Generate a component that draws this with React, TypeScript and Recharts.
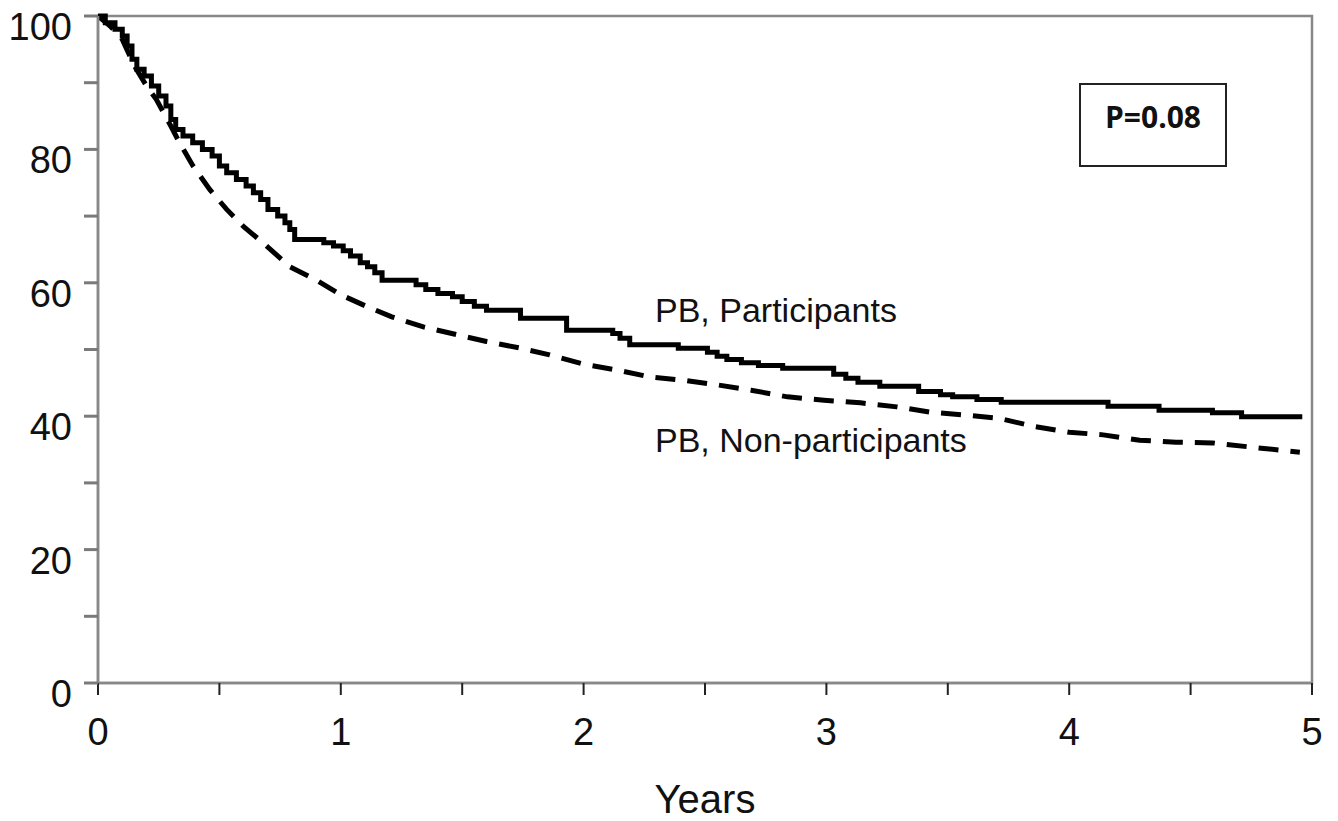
import React from 'react';
import { LineChart, Line, XAxis, YAxis, ReferenceArea } from 'recharts';

// Kaplan-Meier style survival (%)
const participantsYears = [
  0, 0.03, 0.07, 0.1, 0.12, 0.14, 0.16, 0.19, 0.22, 0.25, 0.28, 0.3, 0.32, 0.35, 0.39, 0.43,
  0.47, 0.5, 0.53, 0.57, 0.61, 0.64, 0.67, 0.7, 0.74, 0.77, 0.79, 0.81, 0.93, 0.97, 1.01,
  1.04, 1.08, 1.11, 1.14, 1.17, 1.31, 1.35, 1.4, 1.46, 1.5, 1.55, 1.6, 1.74, 1.93, 2.12,
  2.15, 2.19, 2.39, 2.51, 2.55, 2.59, 2.65, 2.72, 2.82, 3.03, 3.08, 3.13, 3.22, 3.38, 3.47,
  3.52, 3.62, 3.72, 4.16, 4.37, 4.59, 4.71, 4.96,
];
const participantsSurvival = [
  100, 99, 98, 97, 95.5, 93.5, 92, 91, 89.5, 88, 86.5, 84.5, 83, 82, 81, 80,
  79, 77.5, 76.5, 75.5, 74.5, 73.5, 72.5, 71, 70, 69, 68, 66.5, 66, 65.5, 64.8,
  64, 63, 62.4, 61.5, 60.4, 59.7, 59, 58.4, 57.9, 57.2, 56.5, 55.9, 54.7, 52.9, 52.4,
  51.7, 50.7, 50.2, 49.6, 49, 48.5, 48, 47.6, 47.2, 46.3, 45.7, 45.1, 44.5, 43.7, 43.2,
  42.9, 42.5, 42.1, 41.5, 40.9, 40.5, 39.9, 39.9,
];

const nonParticipantsYears = [
  0, 0.05, 0.1, 0.15, 0.2, 0.24, 0.27, 0.3, 0.33, 0.39, 0.46, 0.53, 0.6, 0.68, 0.79, 0.9,
  1.0, 1.11, 1.21, 1.34, 1.48, 1.6, 1.74, 1.86, 2.0, 2.14, 2.27, 2.41, 2.55, 2.69, 2.84,
  2.99, 3.14, 3.29, 3.43, 3.56, 3.71, 3.85, 4.0, 4.14, 4.29, 4.44, 4.59, 4.74, 4.95,
];
const nonParticipantsSurvival = [
  100, 98.5, 96.5, 92.5, 89.5, 87.5, 85.5, 83.5, 81.4, 77.6, 74, 71, 68.4, 66, 62.4, 60.4,
  58.2, 56.4, 54.9, 53.4, 52.2, 51.2, 50.2, 49.2, 47.8, 46.9, 45.9, 45.4, 44.7, 43.9, 42.9,
  42.4, 42, 41.4, 40.6, 40.2, 39.7, 38.5, 37.6, 37.2, 36.4, 36.1, 36, 35.4, 34.6,
];

const xTicks = [0, 0.5, 1, 1.5, 2, 2.5, 3, 3.5, 4, 4.5, 5];
const yTicks = [0, 10, 20, 30, 40, 50, 60, 70, 80, 90, 100];

const participants = participantsYears.map((t, i) => ({ t, s: participantsSurvival[i] }));
const nonParticipants = nonParticipantsYears.map((t, i) => ({ t, s: nonParticipantsSurvival[i] }));

const FONT = '"Liberation Sans", Arial, sans-serif';

const YTick = ({ x, y, payload }: any) =>
  payload.value % 20 === 0 ? (
    <text x={x} y={y + 24} textAnchor="end" fontSize={38} fontFamily={FONT} fill="#111">
      {payload.value}
    </text>
  ) : null;

const XTick = ({ x, y, payload }: any) =>
  Number.isInteger(payload.value) ? (
    <text x={x} y={y + 46} textAnchor="middle" fontSize={38} fontFamily={FONT} fill="#111">
      {payload.value}
    </text>
  ) : null;

const YearsLabel = ({ viewBox }: any) => (
  <text
    x={viewBox.x + viewBox.width / 2}
    y={viewBox.y + 130}
    textAnchor="middle"
    fontSize={40}
    fontFamily={FONT}
    fill="#111"
  >
    Years
  </text>
);

export default function App() {
  return (
    <div style={{ position: 'relative', width: 1338, height: 821, background: '#fff' }}>
      <style>{`body{margin:0;background:#fff}`}</style>
      <LineChart
        width={1338}
        height={821}
        margin={{ top: 16, right: 26, bottom: 0, left: 38 }}
      >
        <XAxis
          type="number"
          dataKey="t"
          domain={[0, 5]}
          ticks={xTicks}
          height={138}
          axisLine={{ stroke: '#888', strokeWidth: 2.5 }}
          tickLine={{ stroke: '#222', strokeWidth: 2 }}
          tickSize={12}
          tickMargin={4}
          tick={<XTick />}
          interval={0}
          allowDataOverflow
          label={<YearsLabel />}
        />
        <YAxis
          type="number"
          domain={[0, 100]}
          ticks={yTicks}
          width={60}
          axisLine={{ stroke: '#888', strokeWidth: 2.5 }}
          tickLine={{ stroke: '#7a7a7a', strokeWidth: 3 }}
          tickSize={14}
          tickMargin={12}
          tick={<YTick />}
          interval={0}
        />
        <ReferenceArea x1={0} x2={5} y1={0} y2={100} fill="none" stroke="#888" strokeWidth={2.5} />
        <Line
          data={nonParticipants}
          dataKey="s"
          type="linear"
          stroke="#000"
          strokeWidth={5}
          strokeDasharray="20 12"
          dot={false}
          activeDot={false}
          isAnimationActive={false}
        />
        <Line
          data={participants}
          dataKey="s"
          type="stepAfter"
          stroke="#000"
          strokeWidth={5}
          dot={false}
          activeDot={false}
          isAnimationActive={false}
        />
      </LineChart>
      <svg
        width={1338}
        height={821}
        style={{ position: 'absolute', left: 0, top: 0, pointerEvents: 'none' }}
      >
        <text x={655} y={322} fontSize={34} fontFamily={FONT} fill="#111">
          PB, Participants
        </text>
        <text x={655} y={452} fontSize={34} fontFamily={FONT} fill="#111">
          PB, Non-participants
        </text>
        <rect x={1080} y={84} width={146} height={82} fill="#fff" stroke="#222" strokeWidth={2} />
        <text
          x={1153}
          y={128}
          textAnchor="middle"
          fontSize={30}
          fontWeight={700}
          fontFamily='"Open Sans", sans-serif'
          fill="#111"
        >
          P=0.08
        </text>
      </svg>
    </div>
  );
}
